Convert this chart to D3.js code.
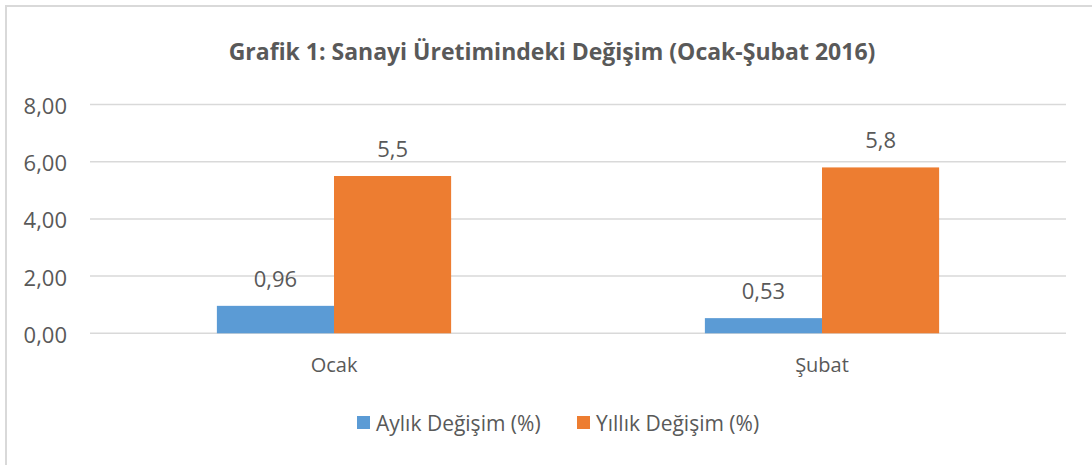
<!DOCTYPE html>
<meta charset="utf-8">
<script src="https://d3js.org/d3.v7.min.js"></script>
<style>
  body { margin: 0; background: #fff; }
  text { font-family: "Open Sans", sans-serif; fill: #595959; }
</style>
<div id="chart"></div>
<script>

// data
var categories = ["Ocak", "Şubat"];
var seriesNames = ["Aylık Değişim (%)", "Yıllık Değişim (%)"];
var aylik = [0.96, 0.53];
var yillik = [5.5, 5.8];
var valueLabels = [["0,96", "0,53"], ["5,5", "5,8"]];
var yTicks = [0, 2, 4, 6, 8];
var colors = ["#5B9BD5", "#ED7D31"];

var W = 1092, H = 465;
var svg = d3.select("#chart").append("svg")
    .attr("width", W)
    .attr("height", H);

// outer chart border (cropped on right and bottom)
svg.append("rect")
    .attr("x", 6).attr("y", 6)
    .attr("width", W + 20).attr("height", H + 20)
    .attr("fill", "#fff")
    .attr("stroke", "#d9d9d9")
    .attr("stroke-width", 2);

// title
svg.append("text")
    .attr("x", 552).attr("y", 60)
    .attr("text-anchor", "middle")
    .style("font-size", "23px")
    .style("font-weight", "bold")
    .text("Grafik 1: Sanayi Üretimindeki Değişim (Ocak-Şubat 2016)");

var x0 = d3.scaleBand()
    .domain(categories)
    .range([90, 1066])
    .paddingInner(0.52)
    .paddingOuter(0.26);

var x1 = d3.scaleBand()
    .domain([0, 1])
    .range([0, x0.bandwidth()]);

var y = d3.scaleLinear()
    .domain([0, 8])
    .range([333.3, 104.5]);

// gridlines
svg.append("g")
  .selectAll("line")
  .data(yTicks)
  .enter().append("line")
    .attr("x1", 90).attr("x2", 1066)
    .attr("y1", function(d) { return y(d); })
    .attr("y2", function(d) { return y(d); })
    .attr("stroke", "#d9d9d9")
    .attr("stroke-width", 1.5);

// y axis labels
var yAxis = d3.axisLeft(y)
    .tickValues(yTicks)
    .tickSize(0)
    .tickPadding(0)
    .tickFormat(function(d) { return d3.format(".2f")(d).replace(".", ","); });
var yg = svg.append("g")
    .attr("transform", "translate(67,2)")
    .call(yAxis);
yg.select(".domain").remove();
yg.selectAll("text")
    .style("font-size", "22px")
    .attr("fill", "#595959")
    .attr("font-family", null);

// x axis labels
var xAxis = d3.axisBottom(x0).tickSize(0).tickPadding(0);
var xg = svg.append("g")
    .attr("transform", "translate(0,358)")
    .call(xAxis);
xg.select(".domain").remove();
xg.selectAll("text")
    .style("font-size", "20px")
    .attr("fill", "#595959")
    .attr("font-family", null);

// bars
var series = [aylik, yillik];
series.forEach(function(vals, s) {
  var g = svg.append("g");
  g.selectAll("rect")
    .data(vals)
    .enter().append("rect")
      .attr("x", function(d, i) { return x0(categories[i]) + x1(s); })
      .attr("y", function(d) { return y(d); })
      .attr("width", x1.bandwidth())
      .attr("height", function(d) { return y(0) - y(d); })
      .attr("fill", colors[s]);
  g.selectAll("text")
    .data(vals)
    .enter().append("text")
      .attr("x", function(d, i) { return x0(categories[i]) + x1(s) + x1.bandwidth() / 2; })
      .attr("y", function(d) { return y(d) - 19; })
      .attr("text-anchor", "middle")
      .style("font-size", "22px")
      .text(function(d, i) { return valueLabels[s][i]; });
});

// legend
var legendX = [357, 577];
var legend = svg.append("g");
seriesNames.forEach(function(name, s) {
  legend.append("rect")
    .attr("x", legendX[s]).attr("y", 416)
    .attr("width", 13).attr("height", 13)
    .attr("fill", colors[s]);
  legend.append("text")
    .attr("x", legendX[s] + 19).attr("y", 431)
    .style("font-size", "21px")
    .text(name);
});

</script>
